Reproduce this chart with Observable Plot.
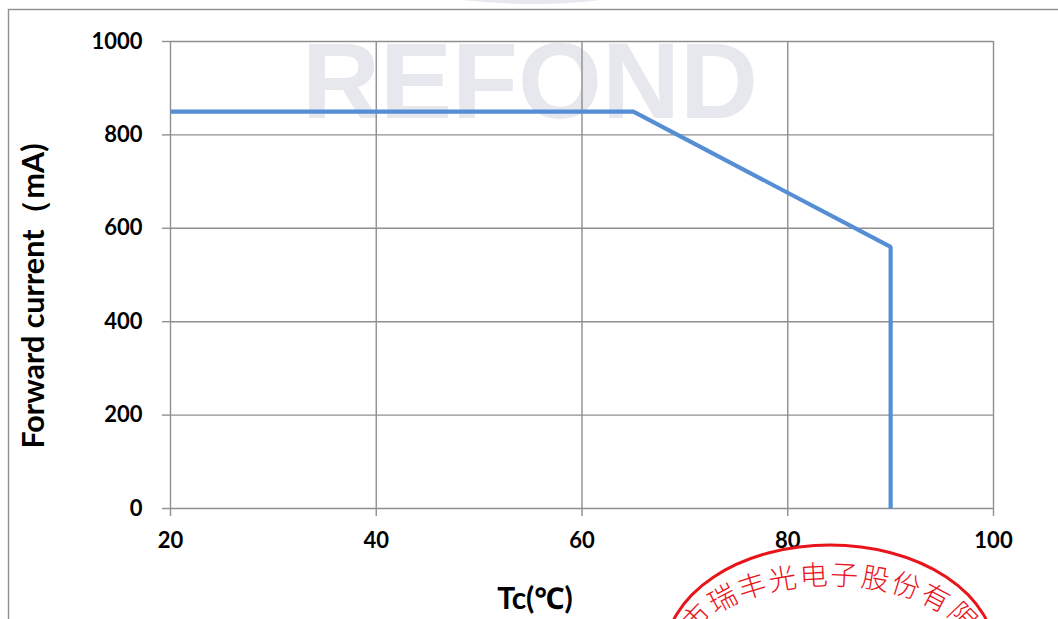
<!DOCTYPE html>
<html>
<head>
<meta charset="utf-8">
<script src="https://cdn.jsdelivr.net/npm/d3@7"></script>
<script src="https://cdn.jsdelivr.net/npm/@observablehq/plot@0.6"></script>
<style>
  html, body { margin: 0; padding: 0; background: #fff; }
  #chart { width: 1058px; height: 619px; overflow: hidden; }
</style>
</head>
<body>
<div id="chart"></div>
<script>
// Data
const tc = [20, 65, 90, 90];
const current = [850, 850, 560, 0];
const xTicks = [20, 40, 60, 80, 100];
const yTicks = [0, 200, 400, 600, 800, 1000];
const xLabel = "Tc(℃)";
const yLabel = "Forward current（mA)";
const watermark = "REFOND";
const stampText = "深圳市瑞丰光电子股份有限公司";

const points = tc.map((t, i) => ({ tc: t, current: current[i] }));

const gridColor = "#8f8f8f";
const lineColor = "#558ED5";
const font = "Lato, 'Noto Sans', sans-serif";

const plot = Plot.plot({
  width: 1058,
  height: 619,
  marginLeft: 170,
  marginRight: 65,
  marginTop: 41,
  marginBottom: 111,
  style: { fontFamily: font, fontSize: "22px", fontWeight: "bold", color: "#000", background: "transparent" },
  x: { domain: [20, 100] },
  y: { domain: [0, 1000] },
  marks: [
    Plot.gridX(xTicks, { stroke: gridColor, strokeOpacity: 1, strokeWidth: 1.4 }),
    Plot.gridY(yTicks, { stroke: gridColor, strokeOpacity: 1, strokeWidth: 1.4 }),
    Plot.axisX({ ticks: xTicks, tickSize: 8, tickPadding: 16, tickFormat: d => String(d), label: null, stroke: gridColor, strokeWidth: 1.4, fill: "#000", fontSize: 22, fontWeight: "bold" }),
    Plot.axisY({ ticks: yTicks, tickSize: 8, tickPadding: 20, tickFormat: d => String(d), label: null, stroke: gridColor, strokeWidth: 1.4, fill: "#000", fontSize: 22, fontWeight: "bold" }),
    Plot.line(points, { x: "tc", y: "current", stroke: lineColor, strokeWidth: 4.2, strokeLinejoin: "miter", strokeLinecap: "butt" }),
    Plot.text([xLabel], { frameAnchor: "bottom", lineAnchor: "bottom", textAnchor: "middle", dx: -47, dy: 100, fontSize: 30, fontWeight: "bold", fill: "#000" }),
    Plot.text([yLabel], { frameAnchor: "left", lineAnchor: "bottom", textAnchor: "middle", rotate: -90, dx: -127, dy: 21, fontSize: 30.5, fontWeight: "bold", fill: "#000" })
  ]
});

document.getElementById("chart").appendChild(plot);

// Decorations: page frame, watermark, company stamp
const svg = d3.select(plot);
const bg = svg.insert("g", ":first-child");
bg.append("rect").attr("x", 8.5).attr("y", 9.5).attr("width", 1200).attr("height", 800)
  .attr("fill", "none").attr("stroke", "#8f8f8f").attr("stroke-width", 1.4);
bg.append("text").attr("x", 302).attr("y", 118).attr("text-anchor", "start")
  .attr("font-family", "'Liberation Sans', Arial, sans-serif").attr("font-weight", "bold")
  .attr("font-size", 108).attr("fill", "#e7e7ee").text(watermark);
bg.append("path").attr("d", "M 462 0 Q 540 8 600 0 Z").attr("fill", "#e7e7ee");

const cx = 830, cy = 655;
const stamp = svg.append("g").attr("fill", "none");
stamp.append("ellipse").attr("cx", cx).attr("cy", cy).attr("rx", 165).attr("ry", 110)
  .attr("stroke", "#e8141b").attr("stroke-width", 3);
const rx2 = 140, ry2 = 70;
stamp.append("path").attr("id", "stampArc")
  .attr("d", `M ${cx} ${cy + ry2} A ${rx2} ${ry2} 0 1 1 ${cx} ${cy - ry2} A ${rx2} ${ry2} 0 1 1 ${cx} ${cy + ry2}`)
  .attr("stroke", "none");
stamp.append("text")
  .attr("font-family", "'Noto Sans CJK SC', sans-serif").attr("font-size", 28)
  .attr("font-weight", 300)
  .attr("fill", "#e8141b").attr("letter-spacing", 2)
  .append("textPath").attr("href", "#stampArc").attr("startOffset", "50%")
  .attr("text-anchor", "middle").text(stampText);
</script>
</body>
</html>
